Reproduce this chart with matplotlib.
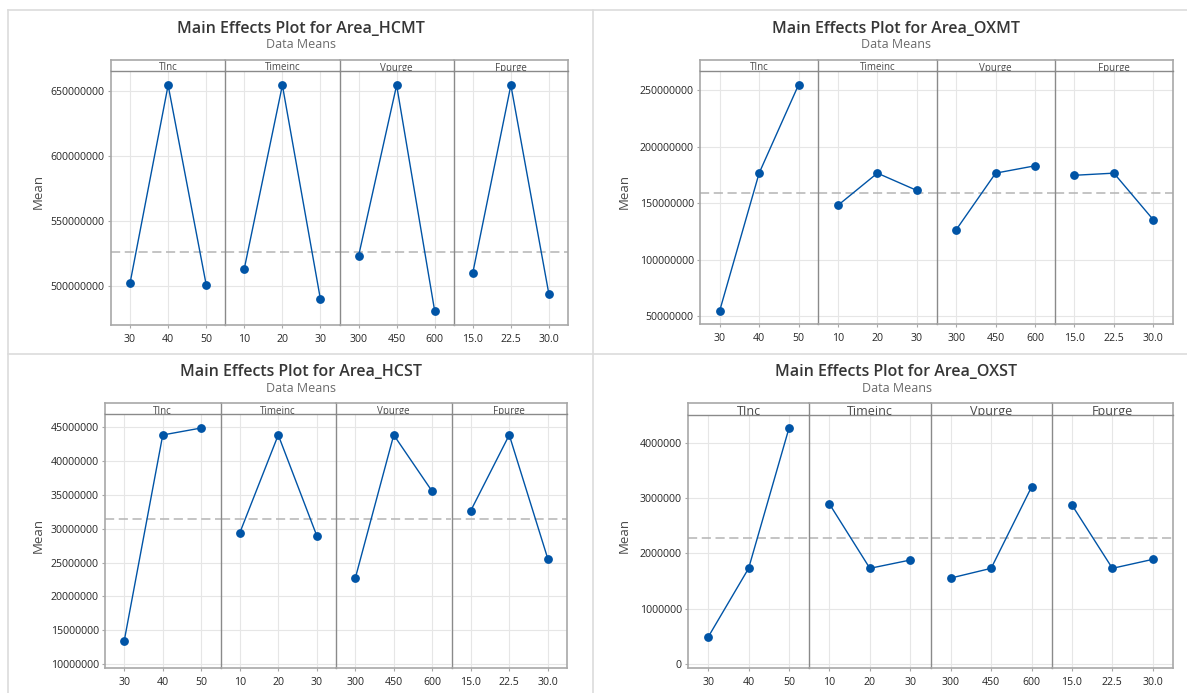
import numpy as np
import matplotlib
matplotlib.use('Agg')
import matplotlib.pyplot as plt
from matplotlib.lines import Line2D
from matplotlib.ticker import FuncFormatter

plt.rcParams['font.family'] = ['Open Sans', 'DejaVu Sans']

W, H = 1187, 693

factors = ['TInc', 'Timeinc', 'Vpurge', 'Fpurge']
levels = [['30', '40', '50'], ['10', '20', '30'], ['300', '450', '600'], ['15.0', '22.5', '30.0']]

# means per factor level
hcmt_means = [[502.3e6, 654.4e6, 501.0e6], [513.4e6, 654.4e6, 489.8e6],
              [523.1e6, 654.4e6, 480.8e6], [510.2e6, 654.4e6, 493.6e6]]
hcmt_grand = 525.9e6
oxmt_means = [[54.7e6, 176.5e6, 254.7e6], [148.0e6, 176.5e6, 161.2e6],
              [126.4e6, 176.5e6, 183.0e6], [174.6e6, 176.5e6, 135.2e6]]
oxmt_grand = 158.6e6
hcst_means = [[13.48e6, 43.82e6, 44.85e6], [29.37e6, 43.82e6, 28.97e6],
              [22.68e6, 43.82e6, 35.49e6], [32.65e6, 43.82e6, 25.59e6]]
hcst_grand = 31.47e6
oxst_means = [[0.488e6, 1.729e6, 4.266e6], [2.891e6, 1.729e6, 1.879e6],
              [1.553e6, 1.729e6, 3.199e6], [2.873e6, 1.729e6, 1.891e6]]
oxst_grand = 2.284e6

BLUE = '#0054a6'
OUTER = '#a8a8a8'
DIV = '#8a8a8a'
GRID = '#e6e6e6'

fig = plt.figure(figsize=(W / 100, H / 100), dpi=100)


def fx(x):
    return x / W


def fy(y):
    return 1 - y / H


def main_effects(name, means, grand, box, ylim, yticks, title_xy, head_fs=7):
    left, right, top, hb, bottom = box
    pw = (right - left) / 4
    for i in range(4):
        x0 = left + i * pw
        ax = fig.add_axes([fx(x0), fy(bottom), pw / W, (bottom - hb) / H])
        hx = fig.add_axes([fx(x0), fy(hb), pw / W, (hb - top) / H])
        xs = np.arange(3)
        ax.plot(xs, means[i], color=BLUE, lw=1.0, marker='o', ms=5.3,
                mfc=BLUE, mec=BLUE, zorder=3)
        ax.axhline(grand, color='#b4b4b4', lw=1.1, ls=(0, (6, 3)), zorder=2)
        ax.set_xlim(-0.5, 2.5)
        ax.set_ylim(*ylim)
        ax.set_xticks(xs)
        ax.set_xticklabels(levels[i])
        ax.set_yticks(yticks)
        ax.grid(True, color=GRID, lw=0.8)
        ax.set_axisbelow(True)
        ax.tick_params(length=2.5, width=0.8, color=OUTER, labelsize=7.6,
                       labelcolor='#262626', pad=2)
        ax.tick_params(axis='x', pad=4)
        if i == 0:
            ax.yaxis.set_major_formatter(FuncFormatter(lambda v, p: '%d' % round(v)))
        else:
            ax.tick_params(axis='y', left=False, labelleft=False)
        for s in ax.spines.values():
            s.set_color(OUTER)
            s.set_linewidth(1.2)
        ax.spines['top'].set_visible(False)
        if i > 0:
            ax.spines['left'].set_color(DIV)
            ax.spines['left'].set_linewidth(1.0)
        if i < 3:
            ax.spines['right'].set_visible(False)

        hx.set_xticks([])
        hx.set_yticks([])
        hx.set_xlim(0, 1)
        hx.set_ylim(0, 1)
        for s in hx.spines.values():
            s.set_color(OUTER)
            s.set_linewidth(1.2)
        hx.spines['bottom'].set_color(DIV)
        hx.spines['bottom'].set_linewidth(1.0)
        if i > 0:
            hx.spines['left'].set_color(DIV)
            hx.spines['left'].set_linewidth(1.0)
        if i < 3:
            hx.spines['right'].set_visible(False)
        hx.text(0.5, 0.0, factors[i], ha='center', va='baseline',
                fontsize=head_fs, color='#4a4a4a', clip_on=True)

    tx, ty, sy, my, mx = title_xy
    fig.text(fx(tx), fy(ty), 'Main Effects Plot for ' + name, ha='center', va='center',
             fontsize=11.5, fontweight='semibold', color='#363636')
    fig.text(fx(tx), fy(sy), 'Data Means', ha='center', va='center',
             fontsize=9, color='#6a6a6a')
    fig.text(fx(mx), fy(my), 'Mean', ha='center', va='center', rotation=90,
             fontsize=9.5, color='#4a4a4a')


main_effects('Area_HCMT', hcmt_means, hcmt_grand, (111, 568, 59.5, 70.5, 324.5),
             (470.5e6, 665.7e6), np.arange(500e6, 651e6, 50e6), (301, 29, 44, 191, 38))
main_effects('Area_OXMT', oxmt_means, oxmt_grand, (700, 1173, 59.5, 70.5, 324),
             (42.9e6, 267.4e6), np.arange(50e6, 251e6, 50e6), (896, 29, 44, 191, 624))
main_effects('Area_HCST', hcst_means, hcst_grand, (105, 567, 402.7, 414.3, 668.3),
             (9.41e6, 46.87e6), np.arange(10e6, 46e6, 5e6), (301, 372, 388.5, 535, 38))
main_effects('Area_OXST', oxst_means, oxst_grand, (688, 1173, 402.7, 415.3, 668.3),
             (-0.078e6, 4.495e6), np.arange(0, 4.1e6, 1e6), (896.5, 372, 388.5, 535, 624),
             head_fs=9)

# light separators between the four images
sep = dict(color='#dcdcdc', lw=1.2, transform=fig.transFigure)
fig.add_artist(Line2D([fx(7.5), 1], [fy(10), fy(10)], **sep))
fig.add_artist(Line2D([fx(7.5), 1], [fy(354.3), fy(354.3)], **sep))
fig.add_artist(Line2D([fx(7.5), fx(7.5)], [fy(10), 0], **sep))
fig.add_artist(Line2D([fx(593.3), fx(593.3)], [fy(10), 0], **sep))

fig.savefig('out.png', dpi=100)
